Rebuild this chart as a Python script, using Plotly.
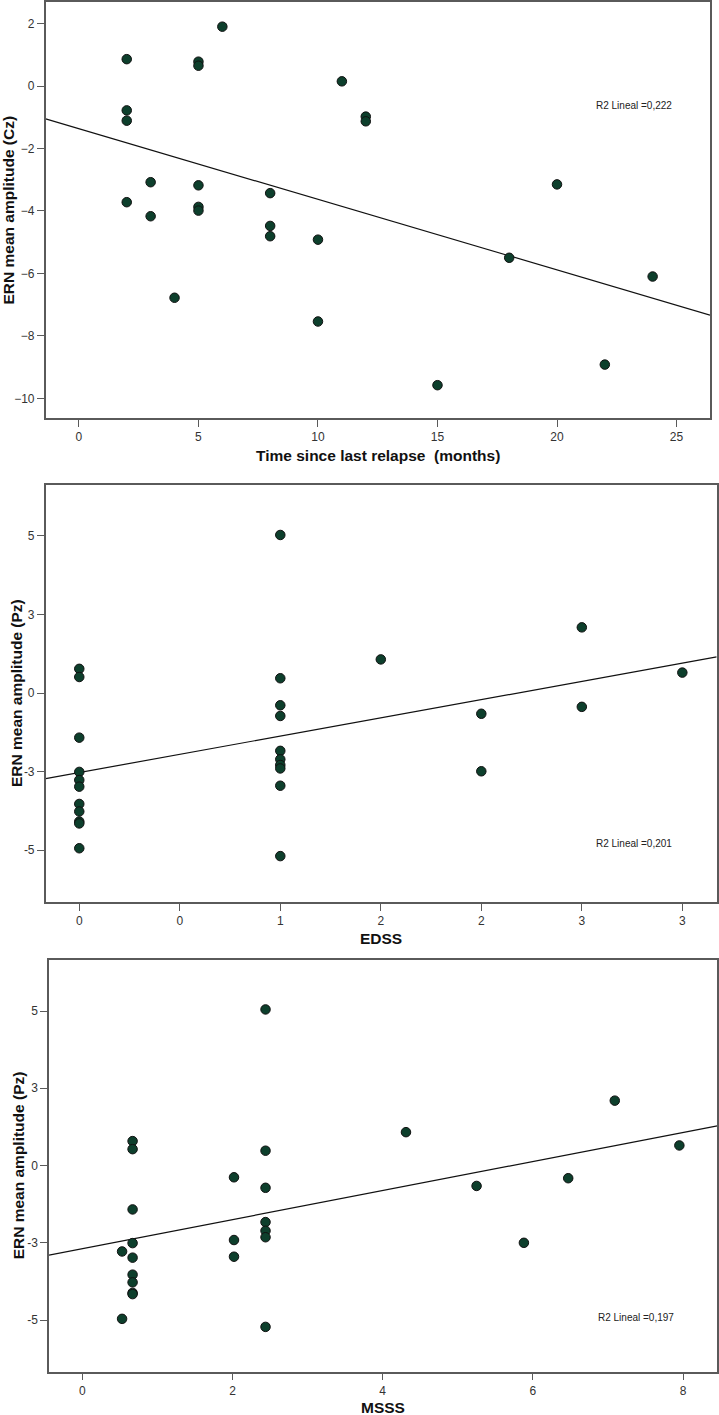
import numpy as np
import plotly.graph_objects as go

# ---------------- data ----------------
# Panel 1: time since last relapse (months) vs ERN Cz
relapse_months = [2, 2, 2, 2, 3, 3, 4, 5, 5, 5, 5, 5, 6, 8, 8, 8, 10, 10, 11, 12, 12, 15, 18, 20, 22, 24]
ern_cz = [0.86, -0.78, -1.11, -3.72, -3.08, -4.17, -6.78, 0.78, 0.65, -3.18, -3.87, -3.99, 1.90,
          -3.43, -4.48, -4.81, -4.92, -7.54, 0.15, -0.98, -1.13, -9.58, -5.50, -3.15, -8.92, -6.10]

# Panel 2: EDSS vs ERN Pz
edss = [0, 0, 0, 0, 0, 0, 0, 0, 0, 0, 0,
        1, 1, 1, 1, 1, 1, 1, 1, 1, 1,
        1.5, 2, 2, 2.5, 2.5, 3]
ern_pz = [0.77, 0.51, -1.42, -2.51, -2.77, -2.98, -3.53, -3.77, -4.09, -4.15, -4.94,
          5.03, 0.47, -0.39, -0.73, -1.84, -2.11, -2.29, -2.40, -2.95, -5.19,
          1.07, -0.66, -2.49, 2.09, -0.44, 0.65]

# Panel 3: MSSS vs ERN Pz (same patients)
msss = [0.67, 0.67, 0.67, 0.67, 0.53, 0.67, 0.67, 0.67, 0.67, 0.67, 0.53,
        2.44, 2.44, 2.02, 2.44, 2.44, 2.44, 2.44, 2.02, 2.02, 2.44,
        4.31, 5.25, 5.88, 7.09, 6.47, 7.95]
ern_pz_msss = [0.79, 0.53, -1.42, -2.51, -2.78, -2.98, -3.53, -3.78, -4.12, -4.16, -4.96,
               5.05, 0.48, -0.38, -0.72, -1.83, -2.11, -2.32, -2.41, -2.95, -5.22,
               1.08, -0.66, -2.50, 2.10, -0.41, 0.65]

# Tick values / labels
p1_xticks = [0, 5, 10, 15, 20, 25]
p1_yticks = [2, 0, -2, -4, -6, -8, -10]
p2_xticks = [0, 0.5, 1, 1.5, 2, 2.5, 3]
p2_xticklabels = ["0", "0", "1", "2", "2", "3", "3"]
pz_yticks = [5, 2.5, 0, -2.5, -5]
pz_yticklabels = ["5", "3", "0", "-3", "-5"]
p3_xticks = [0, 2, 4, 6, 8]

titles_x = ["Time since last relapse  (months)", "EDSS", "MSSS"]
titles_y = ["ERN mean amplitude (Cz)", "ERN mean amplitude (Pz)", "ERN mean amplitude (Pz)"]
r2_labels = ["R2 Lineal =0,222", "R2 Lineal =0,201", "R2 Lineal =0,197"]

# ---------------- layout geometry ----------------
W, H = 719, 1415
FONT = "Liberation Sans, Arial, sans-serif"
DOT = "#0d3f2c"
FRAME = "#5a5a5a"

# pixel boxes (left, top, right, bottom)
boxes = [(45.7, 1.7, 710.0, 418.3), (45.7, 484.7, 716.7, 902.3), (49.0, 960.0, 717.3, 1371.7)]
xranges = [[-1.39, 26.4], [-0.167, 3.171], [-0.443, 8.455]]
yranges = [[-10.64, 2.70], [-6.66, 6.63], [-6.67, 6.65]]

panels = [
    (relapse_months, ern_cz, p1_xticks, None, p1_yticks, None),
    (edss, ern_pz, p2_xticks, p2_xticklabels, pz_yticks, pz_yticklabels),
    (msss, ern_pz_msss, p3_xticks, None, pz_yticks, pz_yticklabels),
]
xtitle_y = [455, 938, 1407]
ytitle_x = [8.5, 16.5, 18.5]
r2_pos = [(634, 105.7), (634, 844), (635.5, 1317.7)]

fig = go.Figure()
layout = dict(width=W, height=H, margin=dict(l=0, r=0, t=0, b=0),
              paper_bgcolor="white", plot_bgcolor="white", showlegend=False,
              font=dict(family=FONT, color="#222"))
annotations = []

for i, (xs, ys, xt, xtl, yt, ytl) in enumerate(panels):
    n = "" if i == 0 else str(i + 1)
    l, t, r, b = boxes[i]
    xa = dict(domain=[l / W, r / W], range=xranges[i], showgrid=False, zeroline=False,
              showline=True, linecolor=FRAME, linewidth=1.5, mirror=True,
              ticks="outside", ticklen=7, tickwidth=1.3, tickcolor=FRAME,
              tickvals=xt, tickfont=dict(size=12, color="#333"),
              anchor="y" + n)
    if xtl is not None:
        xa["ticktext"] = xtl
    ya = dict(domain=[1 - b / H, 1 - t / H], range=yranges[i], showgrid=False, zeroline=False,
              showline=True, linecolor=FRAME, linewidth=1.5, mirror=True,
              ticks="outside", ticklen=7, tickwidth=1.3, tickcolor=FRAME,
              tickvals=yt, tickfont=dict(size=12, color="#333"),
              anchor="x" + n)
    if ytl is not None:
        ya["ticktext"] = ytl
    layout["xaxis" + n] = xa
    layout["yaxis" + n] = ya

    # regression line from the data, across the axis range
    slope, intercept = np.polyfit(np.array(xs, float), np.array(ys, float), 1)
    lx = np.array(xranges[i])
    fig.add_trace(go.Scatter(x=lx, y=slope * lx + intercept, mode="lines",
                             line=dict(color="#111", width=1.2),
                             xaxis="x" + n, yaxis="y" + n, hoverinfo="skip"))
    fig.add_trace(go.Scatter(x=xs, y=ys, mode="markers",
                             marker=dict(size=9.5, color=DOT, line=dict(color="#111", width=1)),
                             xaxis="x" + n, yaxis="y" + n))

    cx = (l + r) / 2
    annotations.append(dict(text="<b>%s</b>" % titles_x[i], x=cx / W, y=1 - xtitle_y[i] / H,
                            xref="paper", yref="paper", showarrow=False,
                            xanchor="center", yanchor="middle",
                            font=dict(family=FONT, size=15.5, color="#111")))
    annotations.append(dict(text="<b>%s</b>" % titles_y[i], x=ytitle_x[i] / W,
                            y=1 - ((t + b) / 2) / H, xref="paper", yref="paper",
                            showarrow=False, textangle=-90, xanchor="center", yanchor="middle",
                            font=dict(family=FONT, size=15.5, color="#111")))
    annotations.append(dict(text=r2_labels[i], x=r2_pos[i][0] / W, y=1 - r2_pos[i][1] / H,
                            xref="paper", yref="paper", showarrow=False,
                            xanchor="center", yanchor="middle",
                            font=dict(family=FONT, size=10, color="#222")))

layout["annotations"] = annotations
fig.update_layout(**layout)
fig.write_html("out.html", config={"displayModeBar": False},
               post_script="document.body.style.margin='0';document.body.style.overflow='hidden';")
